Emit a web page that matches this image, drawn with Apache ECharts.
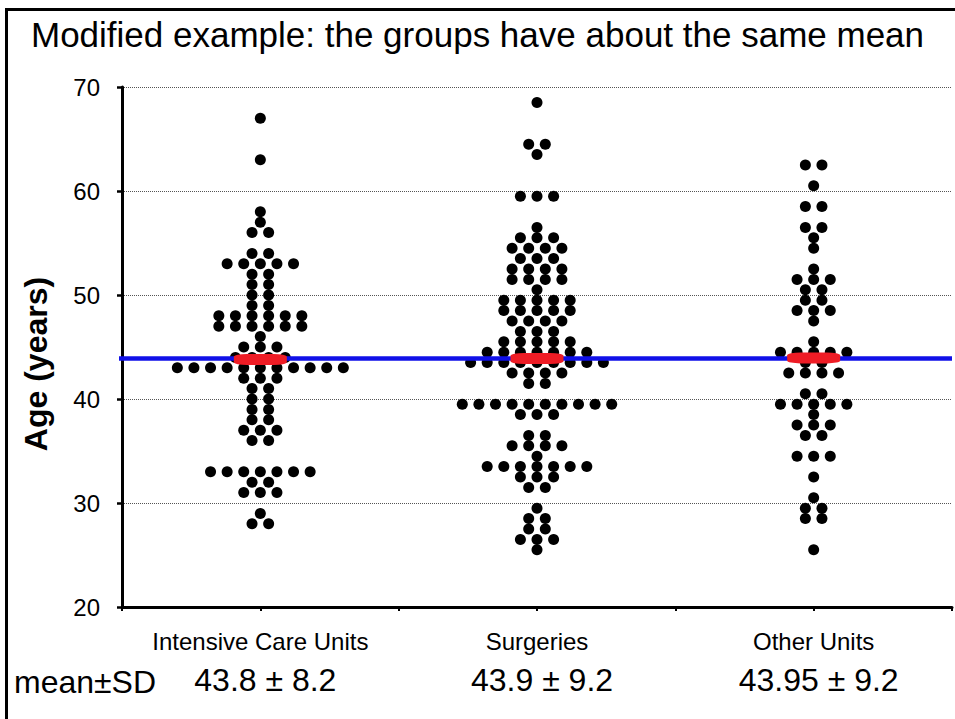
<!DOCTYPE html>
<html>
<head>
<meta charset="utf-8">
<script src="https://cdn.jsdelivr.net/npm/echarts@6/dist/echarts.min.js"></script>
<style>
  html, body { margin: 0; padding: 0; background: #fff; }
  #chart { width: 955px; height: 719px; }
</style>
</head>
<body>
<div id="chart"></div>
<script>
// ---------- DATA ----------
const titleText = 'Modified example: the groups have about the same mean';
const categories = ['Intensive Care Units', 'Surgeries', 'Other Units'];
const categoryPos = [1, 2, 3];

const icuAges = [
  67, 63, 58, 57, 56, 56, 54, 54,
  53, 53, 53, 53, 53, 52, 52, 51, 51, 50, 50, 49, 49,
  48, 48, 48, 48, 48, 48, 47, 47, 47, 47, 47, 47,
  46, 45, 45, 45, 44, 44, 44, 44,
  43, 43, 43, 43, 43, 43, 43, 43, 43, 43, 43,
  42, 42, 42, 41, 41, 40, 40, 39, 39, 38, 38,
  37, 37, 37, 36, 36,
  33, 33, 33, 33, 33, 33, 33, 32, 32, 31, 31, 31, 29, 28, 28
];
const surgeryAges = [
  68.5, 64.5, 64.5, 63.5, 59.5, 59.5, 59.5, 56.5,
  55.5, 55.5, 55.5, 54.5, 54.5, 54.5, 54.5, 53.5, 53.5, 53.5,
  52.5, 52.5, 52.5, 52.5, 51.5, 51.5, 51.5, 51.5, 50.5,
  49.5, 49.5, 49.5, 49.5, 49.5, 48.5, 48.5, 48.5, 48.5, 48.5,
  47.5, 47.5, 47.5, 47.5, 46.5, 46.5, 46.5,
  45.5, 45.5, 45.5, 45.5, 45.5,
  44.5, 44.5, 44.5, 44.5, 44.5, 44.5, 44.5,
  43.5, 43.5, 43.5, 43.5, 43.5, 43.5, 43.5, 43.5, 43.5,
  42.5, 42.5, 42.5, 42.5, 41.5, 41.5,
  39.5, 39.5, 39.5, 39.5, 39.5, 39.5, 39.5, 39.5, 39.5, 39.5,
  38.5, 38.5, 38.5, 36.5, 36.5, 35.5, 35.5, 35.5, 35.5, 34.5,
  33.5, 33.5, 33.5, 33.5, 33.5, 33.5, 33.5, 32.5, 32.5, 32.5, 31.5, 31.5,
  29.5, 28.5, 28.5, 27.5, 27.5, 26.5, 26.5, 26.5, 25.5
];
const otherAges = [
  62.5, 62.5, 60.5, 58.5, 58.5, 56.5, 56.5, 55.5, 54.5,
  52.5, 51.5, 51.5, 51.5, 50.5, 50.5, 49.5, 49.5, 48.5, 48.5, 48.5, 47.5,
  45.5, 44.5, 44.5, 44.5, 44.5, 44.5, 43.5, 43.5, 42.5, 42.5, 42.5, 42.5,
  40.5, 40.5, 39.5, 39.5, 39.5, 39.5, 39.5, 38.5, 37.5, 37.5, 37.5,
  36.5, 36.5, 34.5, 34.5, 34.5, 32.5, 30.5, 29.5, 29.5, 28.5, 28.5, 25.5
];
const groupMeans = [43.8, 43.9, 43.95];
const groupSDs = [8.2, 9.2, 9.2];
const overallMean = 43.9;
const yTicks = [20, 30, 40, 50, 60, 70];
const yName = 'Age (years)';
const meanRowLabel = 'mean±SD';

// ---------- LAYOUT / STYLE ----------
const FONT = '"Liberation Sans", Arial, sans-serif';
const xMin = 0.5, xMax = 3.5, xInterval = 0.5;
const dotStep = 0.06;   // horizontal spacing between equal values (axis units)

function swarm(values, center) {
  const counts = new Map();
  values.forEach(v => counts.set(v, (counts.get(v) || 0) + 1));
  const pts = [];
  counts.forEach((n, v) => {
    for (let i = 0; i < n; i++) pts.push([center + (i - (n - 1) / 2) * dotStep, v]);
  });
  return pts;
}

const groups = [icuAges, surgeryAges, otherAges];
const dotData = [];
groups.forEach((g, i) => swarm(g, categoryPos[i]).forEach(p => dotData.push(p)));
const meanData = groupMeans.map((m, i) => [categoryPos[i], m]);
const meanLabels = groupMeans.map((m, i) => `${m} ± ${groupSDs[i].toFixed(1)}`);

const chart = echarts.init(document.getElementById('chart'), null, { renderer: 'svg' });
chart.setOption({
  backgroundColor: '#fff',
  animation: false,
  title: [
    { text: titleText, left: 'center', top: 17, padding: 0,
      textStyle: { fontFamily: FONT, fontSize: 35, fontWeight: 'normal', color: '#000' } },
    { text: meanRowLabel, left: 14, top: 666, padding: 0,
      textStyle: { fontFamily: FONT, fontSize: 32, fontWeight: 'normal', color: '#000' } }
  ],
  graphic: [{
    type: 'rect', silent: true,
    shape: { x: 6.5, y: 9.5, width: 1200, height: 1000 },
    style: { fill: 'none', stroke: '#000', lineWidth: 3 }
  }],
  grid: { left: 122, right: -13, top: 87, bottom: 112 },
  xAxis: {
    type: 'value', min: xMin, max: xMax, interval: xInterval,
    axisLine: { show: true, onZero: false, lineStyle: { color: '#000', width: 3 } },
    axisTick: { show: true, length: 4, lineStyle: { color: '#000', width: 2 } },
    splitLine: { show: false },
    axisLabel: {
      margin: 17,
      formatter: v => {
        const i = categoryPos.findIndex(p => Math.abs(p - v) < 1e-6);
        return i < 0 ? '' : `{a|${categories[i]}}\n{b|${meanLabels[i]}}`;
      },
      rich: {
        a: { fontFamily: FONT, fontSize: 24, lineHeight: 34, color: '#000' },
        b: { fontFamily: FONT, fontSize: 32, lineHeight: 43, color: '#000', padding: [0, 0, 0, 10] }
      }
    }
  },
  yAxis: {
    type: 'value', min: yTicks[0], max: yTicks[yTicks.length - 1], interval: 10,
    name: yName, nameLocation: 'middle', nameRotate: 90, nameGap: 70,
    nameTextStyle: { fontFamily: FONT, fontSize: 32, fontWeight: 'bold', color: '#000',
                     padding: [0, 34, 0, 0] },
    axisLine: { show: true, lineStyle: { color: '#000', width: 3 } },
    axisTick: { show: true, length: 5, lineStyle: { color: '#000', width: 2.5 } },
    axisLabel: { fontFamily: FONT, fontSize: 24, color: '#000', margin: 22 },
    splitLine: { show: true, lineStyle: { color: '#555', width: 1, type: 'dotted' } }
  },
  series: [
    {
      name: 'ages', type: 'scatter', data: dotData, z: 2,
      symbol: 'circle', symbolSize: 11,
      itemStyle: { color: '#000', opacity: 1 }
    },
    {
      name: 'overall mean', type: 'line', z: 3, clip: false,
      data: [[xMin - 0.035, overallMean], [xMax, overallMean]],
      symbol: 'none', lineStyle: { color: '#1010e8', width: 4.5, opacity: 1 }
    },
    {
      name: 'group mean', type: 'scatter', z: 4, data: meanData,
      symbol: 'roundRect', symbolSize: [53, 11],
      itemStyle: { color: '#ee1c25', opacity: 1 }
    }
  ]
});
</script>
</body>
</html>
